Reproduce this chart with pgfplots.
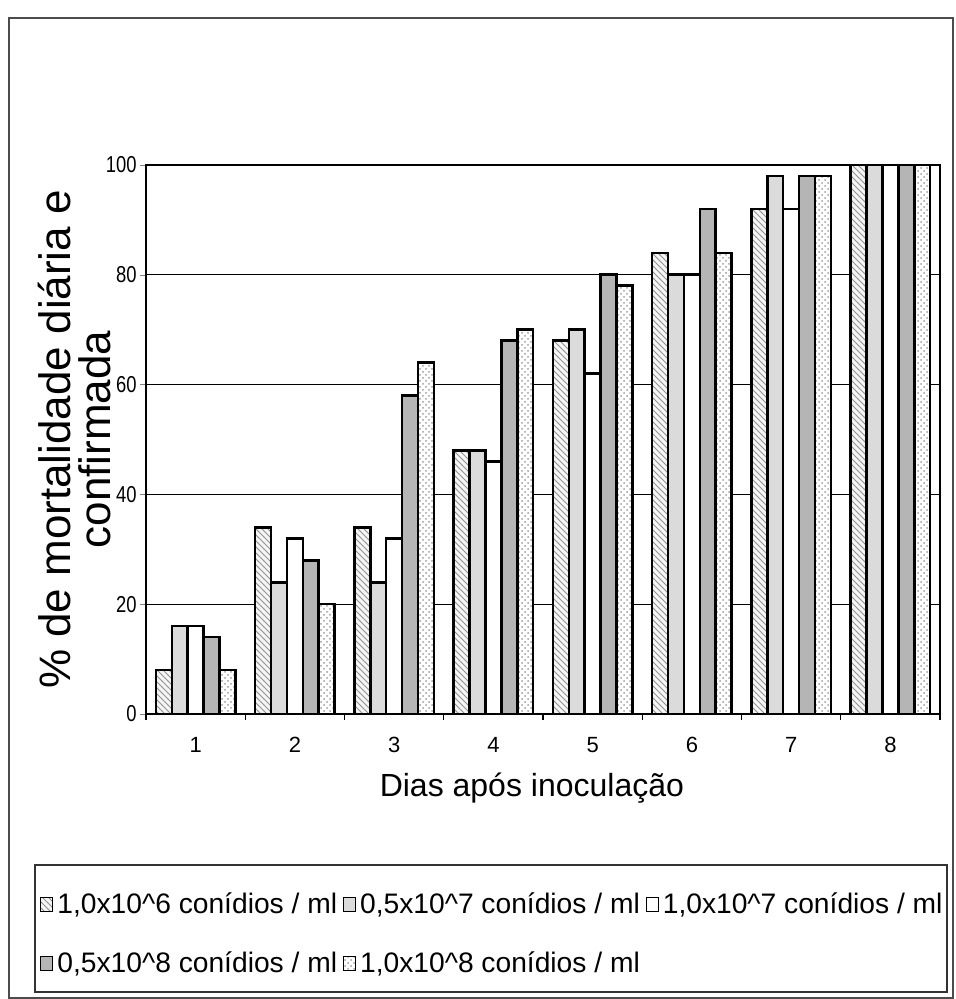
\documentclass[border=0pt]{standalone}
\usepackage{fontspec}
\setmainfont{Liberation Sans}
\newfontfamily\narrowsans{Liberation Sans}[FakeStretch=0.8]
\usepackage{pgfplots}
\usepackage{pgfplotstable}
\pgfplotsset{compat=1.18}
\usetikzlibrary{patterns}

% mortalidade diária e confirmada (%) por concentração
\pgfplotstableread{
dia s1 s2 s3 s4 s5
1 8 16 16 14 8
2 34 24 32 28 20
3 34 24 32 58 64
4 48 48 46 68 70
5 68 70 62 80 78
6 84 80 80 92 84
7 92 98 92 98 98
8 100 100 100 100 100
}\dados

\begin{document}
\begin{tikzpicture}
% page area and outer frame
\path (-73pt,-142.5pt) rectangle (404.5pt,357pt);
\draw[black!70, line width=0.6pt] (-68.5pt,-142pt) rectangle (403.5pt,348pt);
% legend frame
\draw[black!80, line width=0.7pt] (-55.5pt,-75.5pt) rectangle (400.5pt,-139pt);
\begin{axis}[
  at={(0,0)}, anchor=south west,
  scale only axis, width=397pt, height=274.5pt,
  ybar=0pt, bar width=0.16,
  xmin=0.5, xmax=8.5, ymin=0, ymax=100,
  axis line style={line width=0.7pt},
  tick pos=left, tick align=outside,
  xtick={0.5,1.5,...,8.5}, xticklabels={},
  xtick style={black, line width=0.6pt},
  major tick length=3pt,
  extra x ticks={1,...,8},
  extra x tick labels={1,2,3,4,5,6,7,8},
  extra x tick style={major tick length=0pt, grid=none,
    xticklabel style={anchor=base, yshift=-19pt}},
  ytick={0,20,...,100},
  ymajorgrids,
  major grid style={black, line width=0.5pt},
  /pgf/number format/assume math mode=true,
  ticklabel style={font=\fontsize{11}{13}\selectfont},
  yticklabel style={font=\narrowsans\fontsize{11.5}{13}\selectfont, inner sep=0pt, xshift=-1.5pt},
  xlabel={Dias após inoculação},
  xlabel style={font=\fontsize{16}{19}\selectfont,
    at={(axis description cs:0.486,0)}, anchor=base, yshift=-41pt},
  ylabel={\% de mortalidade diária e\\confirmada},
  ylabel style={align=center, font=\fontsize{22}{20}\selectfont,
    at={(axis description cs:-0.09,0.5)}, anchor=center},
  legend columns=3,
  legend cell align=left,
  legend style={at={(axis description cs:-0.1335,-0.318)}, anchor=north west,
    draw=none, fill=none, inner sep=0pt, row sep=13.5pt,
    font=\fontsize{14.1}{16}\selectfont,
    /tikz/every even column/.append style={column sep=1pt}},
  legend image code/.code={\draw[#1, line width=0.5pt] (0pt,-3.5pt) rectangle (6pt,3.5pt);},
]
\addplot[draw=black, line width=1.3pt, fill=gray!8,
  postaction={pattern=north west lines, pattern color=gray!85}]
  table[x=dia, y=s1]{\dados};
\addlegendentry{1,0x10\textasciicircum 6 conídios / ml}
\addplot[draw=black, line width=1.3pt, fill=gray!28]
  table[x=dia, y=s2]{\dados};
\addlegendentry{0,5x10\textasciicircum 7 conídios / ml}
\addplot[draw=black, line width=1.3pt, fill=white]
  table[x=dia, y=s3]{\dados};
\addlegendentry{1,0x10\textasciicircum 7 conídios / ml}
\addplot[draw=black, line width=1.3pt, fill=gray!58]
  table[x=dia, y=s4]{\dados};
\addlegendentry{0,5x10\textasciicircum 8 conídios / ml}
\addplot[draw=black, line width=1.3pt, fill=white,
  postaction={pattern=crosshatch dots, pattern color=gray!75}]
  table[x=dia, y=s5]{\dados};
\addlegendentry{1,0x10\textasciicircum 8 conídios / ml}
\end{axis}
\end{tikzpicture}
\end{document}
